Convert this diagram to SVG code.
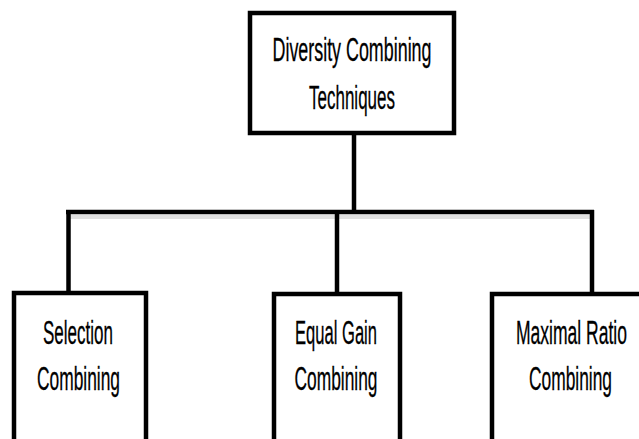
<svg xmlns="http://www.w3.org/2000/svg" width="639" height="439" viewBox="0 0 639 439">
<style>
.box{fill:#fff;stroke:#000;stroke-width:4.5}
.ln{stroke:#000;stroke-width:4.5;fill:none}
.sh{stroke:#000;stroke-opacity:0.12;stroke-width:4;fill:none}
text{font-family:"Liberation Sans",Arial,sans-serif;font-size:33px;fill:#000;text-anchor:middle;stroke:#000;stroke-width:0.3}
</style>
<rect width="639" height="439" fill="#fff"/>
<g id="connectors">
<line class="sh" x1="68" y1="217" x2="594" y2="217"/>
<line class="ln" x1="354" y1="135" x2="354" y2="212"/>
<line class="ln" x1="66" y1="212" x2="594" y2="212"/>
<line class="ln" x1="68.5" y1="212" x2="68.5" y2="292"/>
<line class="ln" x1="337" y1="212" x2="337" y2="293"/>
<line class="ln" x1="592" y1="210" x2="592" y2="293"/>
</g>
<g id="root">
<rect class="box" x="250" y="13" width="204" height="120"/>
<text x="352" y="61" textLength="159" lengthAdjust="spacingAndGlyphs">Diversity Combining</text>
<text x="352" y="109" textLength="86" lengthAdjust="spacingAndGlyphs">Techniques</text>
</g>
<g id="selection">
<rect class="box" x="14" y="293" width="132" height="160"/>
<text x="78" y="344" textLength="70" lengthAdjust="spacingAndGlyphs">Selection</text>
<text x="78.5" y="390" textLength="83" lengthAdjust="spacingAndGlyphs">Combining</text>
</g>
<g id="equal">
<rect class="box" x="274" y="294" width="126" height="160"/>
<text x="336" y="344" textLength="82" lengthAdjust="spacingAndGlyphs">Equal Gain</text>
<text x="336" y="390" textLength="83" lengthAdjust="spacingAndGlyphs">Combining</text>
</g>
<g id="maximal">
<rect class="box" x="492" y="294" width="160" height="160"/>
<text x="571.5" y="344" textLength="111" lengthAdjust="spacingAndGlyphs">Maximal Ratio</text>
<text x="570.5" y="390" textLength="83" lengthAdjust="spacingAndGlyphs">Combining</text>
</g>
</svg>
